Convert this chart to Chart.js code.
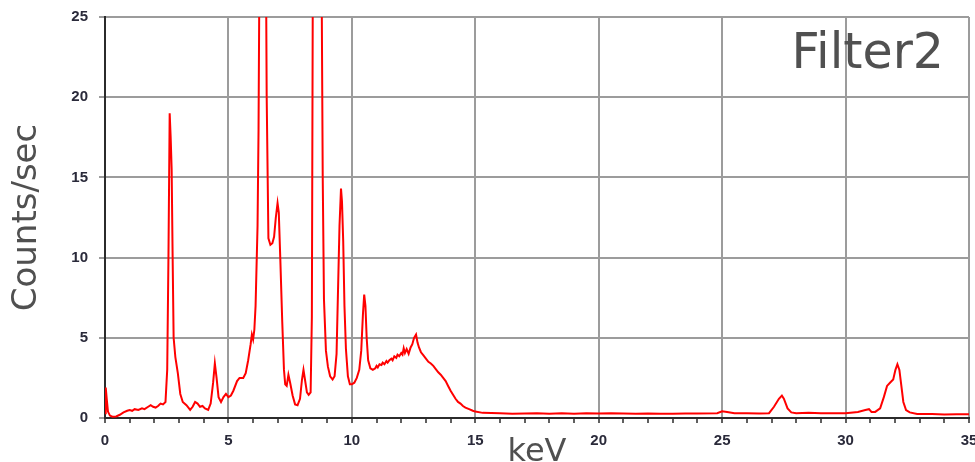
<!DOCTYPE html>
<html>
<head>
<meta charset="utf-8">
<title>Filter2 spectrum</title>
<script src="https://cdn.jsdelivr.net/npm/chart.js@4/dist/chart.umd.min.js"></script>
<style>
    body { margin: 0; background: #fff; }
    canvas { display: block; }
</style>
</head>
<body>
<canvas id="spectrumCanvas" width="975" height="462"></canvas>
<script>
// Spectrum (keV / counts per second)
const energies = [
    0.00, 0.03, 0.07, 0.12, 0.20, 0.30, 0.45, 0.60, 0.75, 0.90,
    1.00, 1.10, 1.20, 1.35, 1.50, 1.60, 1.75, 1.85, 1.95, 2.05,
    2.15, 2.25, 2.35, 2.45, 2.52, 2.57, 2.62, 2.66, 2.70, 2.74,
    2.78, 2.85, 2.95, 3.05, 3.15, 3.30, 3.45, 3.55, 3.65, 3.75,
    3.85, 3.95, 4.05, 4.18, 4.28, 4.38, 4.45, 4.52, 4.60, 4.70,
    4.80, 4.90, 5.00, 5.10, 5.20, 5.35, 5.45, 5.60, 5.70, 5.80,
    5.90, 5.95, 6.00, 6.05, 6.10, 6.18, 6.22, 6.30, 6.40, 6.48,
    6.55, 6.62, 6.70, 6.78, 6.85, 6.92, 6.99, 7.04, 7.10, 7.18,
    7.25, 7.30, 7.36, 7.43, 7.50, 7.60, 7.70, 7.80, 7.90, 7.98,
    8.04, 8.10, 8.18, 8.25, 8.33, 8.38, 8.42, 8.50, 8.62, 8.72,
    8.78, 8.82, 8.87, 8.95, 9.03, 9.12, 9.22, 9.30, 9.38, 9.44,
    9.50, 9.56, 9.60, 9.65, 9.70, 9.76, 9.84, 9.92, 10.00, 10.10,
    10.20, 10.30, 10.38, 10.45, 10.50, 10.55, 10.60, 10.66, 10.75, 10.85,
    10.95, 11.00, 11.05, 11.12, 11.20, 11.25, 11.32, 11.40, 11.45, 11.52,
    11.60, 11.65, 11.72, 11.80, 11.85, 11.92, 12.00, 12.05, 12.10, 12.15,
    12.22, 12.30, 12.38, 12.45, 12.52, 12.60, 12.66, 12.72, 12.80, 12.90,
    13.00, 13.10, 13.20, 13.30, 13.40, 13.50, 13.60, 13.70, 13.80, 13.90,
    14.00, 14.10, 14.20, 14.30, 14.40, 14.50, 14.60, 14.75, 14.90, 15.00,
    15.30, 16.00, 16.50, 17.00, 17.50, 18.00, 18.50, 19.00, 19.50, 20.00,
    20.50, 21.00, 21.50, 22.00, 22.50, 23.00, 23.50, 24.00, 24.80, 25.00,
    25.20, 25.50, 26.00, 26.50, 26.90, 27.10, 27.30, 27.42, 27.50, 27.65,
    27.80, 28.00, 28.50, 29.00, 29.50, 30.00, 30.50, 30.80, 30.95, 31.05,
    31.20, 31.40, 31.55, 31.68, 31.80, 31.93, 32.02, 32.10, 32.18, 32.26,
    32.34, 32.45, 32.60, 32.90, 33.50, 34.00, 34.50, 35.00
];
const counts = [
    0.30, 1.90, 1.20, 0.40, 0.15, 0.08, 0.10, 0.20, 0.35, 0.45,
    0.50, 0.45, 0.55, 0.50, 0.60, 0.55, 0.70, 0.80, 0.70, 0.65,
    0.75, 0.90, 0.85, 1.00, 3.00, 10.0, 19.0, 17.5, 15.5, 10.0,
    5.00, 3.80, 2.80, 1.50, 1.00, 0.80, 0.50, 0.70, 1.00, 0.90,
    0.70, 0.75, 0.60, 0.50, 0.90, 2.20, 3.40, 2.50, 1.30, 1.00,
    1.30, 1.50, 1.30, 1.40, 1.70, 2.30, 2.50, 2.50, 2.80, 3.60,
    4.60, 5.20, 4.90, 5.50, 7.00, 12.0, 18.0, 40.0, 65.0, 40.0,
    20.0, 11.2, 10.8, 10.9, 11.3, 12.5, 13.4, 12.8, 10.0, 6.00,
    3.00, 2.10, 2.00, 2.70, 2.20, 1.40, 0.85, 0.80, 1.20, 2.40,
    3.00, 2.40, 1.60, 1.45, 1.60, 6.30, 28.0, 45.0, 60.0, 45.0,
    26.0, 15.0, 7.40, 4.20, 3.20, 2.60, 2.40, 2.60, 4.00, 8.00,
    12.0, 14.3, 13.5, 11.0, 7.00, 4.30, 2.60, 2.10, 2.10, 2.20,
    2.50, 3.00, 4.20, 6.50, 7.70, 7.00, 5.00, 3.60, 3.10, 3.00,
    3.10, 3.25, 3.15, 3.35, 3.30, 3.45, 3.35, 3.55, 3.45, 3.60,
    3.70, 3.60, 3.85, 3.75, 3.95, 3.85, 4.05, 3.95, 4.35, 4.05,
    4.30, 4.00, 4.40, 4.60, 5.00, 5.20, 4.70, 4.40, 4.10, 3.90,
    3.70, 3.50, 3.40, 3.25, 3.05, 2.85, 2.70, 2.50, 2.30, 2.00,
    1.70, 1.45, 1.20, 1.00, 0.90, 0.75, 0.65, 0.55, 0.45, 0.40,
    0.32, 0.30, 0.27, 0.28, 0.30, 0.27, 0.29, 0.27, 0.30, 0.28,
    0.30, 0.28, 0.26, 0.28, 0.27, 0.26, 0.28, 0.28, 0.30, 0.42,
    0.38, 0.30, 0.30, 0.28, 0.30, 0.70, 1.20, 1.40, 1.20, 0.60,
    0.35, 0.30, 0.32, 0.30, 0.30, 0.30, 0.38, 0.50, 0.55, 0.38,
    0.38, 0.60, 1.30, 2.00, 2.20, 2.40, 3.00, 3.35, 3.00, 2.00,
    1.00, 0.50, 0.35, 0.25, 0.25, 0.22, 0.24, 0.23
];

// Axis settings
const xMin = 0, xMax = 35, xMajorStep = 5;
const yMin = 0, yMax = 25, yStep = 5;
const labelText = 'Filter2';

const gridGray = '#9c9c9c';
const axisColor = '#2b2b2b';
const textGray = '#505050';
const tickFont = { family: '"Liberation Sans", Arial, sans-serif', size: 15, weight: 'bold' };

// Draws the sample label in the top right corner of the plot
const cornerLabel = {
    id: 'cornerLabel',
    afterDraw(chart) {
        const area = chart.chartArea;
        const ctx = chart.ctx;
        ctx.save();
        ctx.font = '49px "DejaVu Sans", sans-serif';
        ctx.fillStyle = textGray;
        ctx.textAlign = 'right';
        ctx.textBaseline = 'alphabetic';
        ctx.fillText(labelText, area.right - 25, area.top + 51);
        ctx.restore();
    }
};

document.addEventListener('DOMContentLoaded', function () {
    const ctx = document.getElementById('spectrumCanvas');
    const points = energies.map((e, i) => ({ x: e, y: counts[i] }));

    new Chart(ctx, {
        type: 'line',
        data: {
            datasets: [{
                data: points,
                borderColor: '#ff0000',
                borderWidth: 2,
                pointRadius: 0,
                tension: 0,
                fill: false
            }]
        },
        options: {
            responsive: false,
            animation: false,
            layout: { padding: { left: 0, right: 6, top: 17, bottom: 0 } },
            plugins: {
                legend: { display: false },
                tooltip: { enabled: false }
            },
            scales: {
                x: {
                    type: 'linear',
                    min: xMin,
                    max: xMax,
                    border: { color: axisColor, width: 2 },
                    grid: {
                        color: c => (c.tick && c.tick.value % xMajorStep === 0) ? gridGray : 'rgba(0,0,0,0)',
                        lineWidth: 2,
                        tickColor: axisColor,
                        tickLength: 5,
                        tickWidth: 1.5
                    },
                    ticks: {
                        stepSize: 1,
                        autoSkip: false,
                        maxRotation: 0,
                        padding: 9,
                        color: '#2a2a3a',
                        font: tickFont,
                        callback: v => (v % xMajorStep === 0 ? v : '')
                    },
                    title: {
                        display: true,
                        text: 'keV',
                        color: textGray,
                        font: { family: '"DejaVu Sans", sans-serif', size: 32, lineHeight: 0.6 },
                        padding: { top: 0, bottom: 0 }
                    },
                    afterFit: scale => {
                        scale.height = 44;
                        scale.paddingLeft = 0;
                        scale.paddingRight = 0;
                    }
                },
                y: {
                    min: yMin,
                    max: yMax,
                    border: { color: axisColor, width: 2 },
                    grid: {
                        color: gridGray,
                        lineWidth: 2,
                        tickColor: gridGray,
                        tickLength: 6
                    },
                    ticks: {
                        stepSize: yStep,
                        padding: 11,
                        color: '#2a2a3a',
                        font: tickFont
                    },
                    title: {
                        display: true,
                        text: 'Counts/sec',
                        color: textGray,
                        font: { family: '"DejaVu Sans", sans-serif', size: 34 },
                        padding: { top: 7, bottom: 0 }
                    },
                    afterFit: scale => {
                        scale.width = 105;
                        scale.paddingTop = 0;
                        scale.paddingBottom = 0;
                    }
                }
            }
        },
        plugins: [cornerLabel]
    });
});
</script>
</body>
</html>
